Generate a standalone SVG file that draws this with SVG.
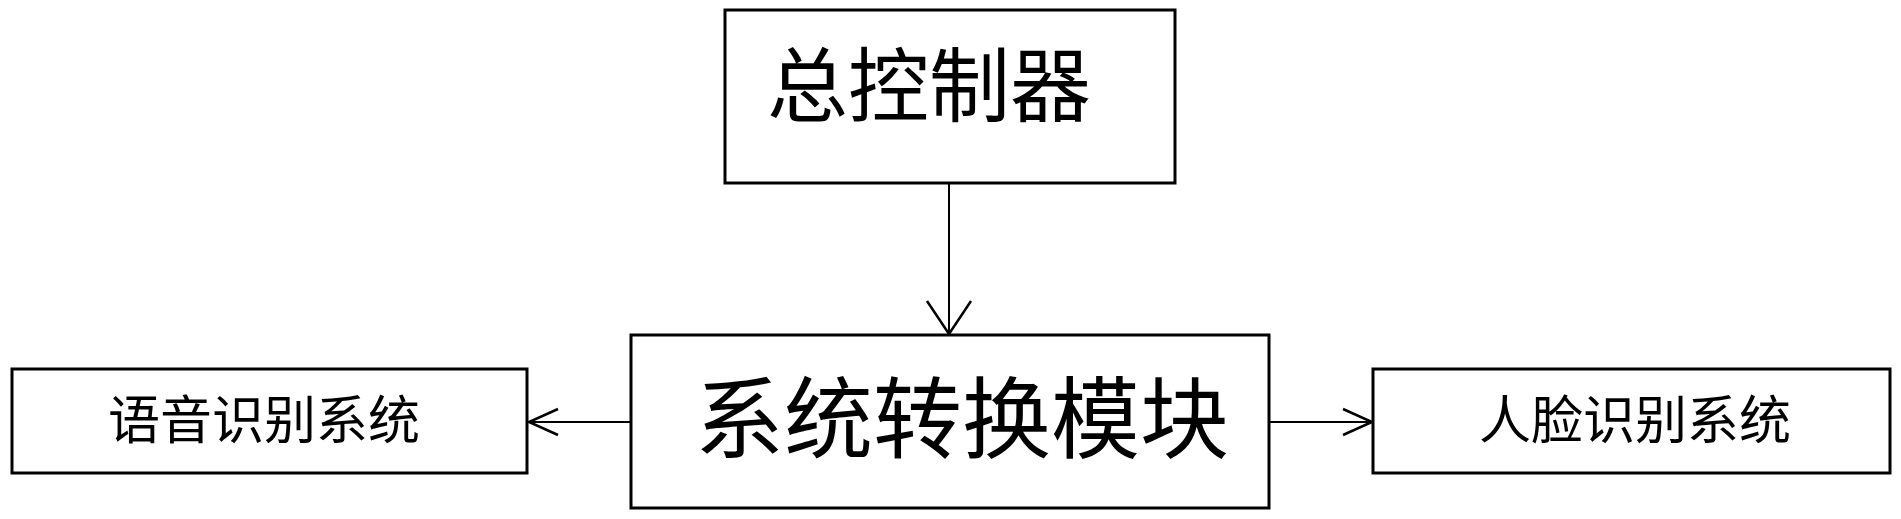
<svg xmlns="http://www.w3.org/2000/svg" width="1901" height="519" viewBox="0 0 1901 519">
<style>
.box{fill:#fff;stroke:#000;stroke-width:3}
.lbl{font-family:"Noto Sans CJK SC","Noto Sans CJK JP",sans-serif;fill:#000;text-anchor:middle}
.conn{fill:none;stroke:#000;stroke-width:2}
.ah{fill:none;stroke:#000;stroke-width:2.5}
</style>
<defs>
<marker id="arrowL" markerUnits="userSpaceOnUse" viewBox="0 0 34 44" refX="33" refY="22" markerWidth="34" markerHeight="44" orient="auto" overflow="visible">
<path class="ah" d="M0,0 L33,22 L0,44"/>
</marker>
<marker id="arrowS" markerUnits="userSpaceOnUse" viewBox="0 0 30 26" refX="29" refY="13" markerWidth="30" markerHeight="26" orient="auto" overflow="visible">
<path class="ah" d="M0,0 L29,13 L0,26"/>
</marker>
</defs>
<rect width="1901" height="519" fill="#fff"/>
<g id="connectors">
<line class="conn" x1="949" y1="184" x2="949" y2="334" marker-end="url(#arrowL)"/>
<line class="conn" x1="630" y1="422" x2="529" y2="422" marker-end="url(#arrowS)"/>
<line class="conn" x1="1270" y1="422" x2="1372" y2="422" marker-end="url(#arrowS)"/>
</g>
<g id="controller">
<rect class="box" x="725" y="10" width="450" height="173"/>
<text class="lbl" x="929" y="115" font-size="81">总控制器</text>
</g>
<g id="switch">
<rect class="box" x="631" y="335" width="638" height="173"/>
<text class="lbl" x="962" y="451" font-size="89">系统转换模块</text>
</g>
<g id="voice">
<rect class="box" x="12" y="369" width="515" height="104"/>
<text class="lbl" x="264" y="439" font-size="52">语音识别系统</text>
</g>
<g id="face">
<rect class="box" x="1373" y="369" width="517" height="104"/>
<text class="lbl" x="1635" y="439" font-size="52">人脸识别系统</text>
</g>
</svg>
